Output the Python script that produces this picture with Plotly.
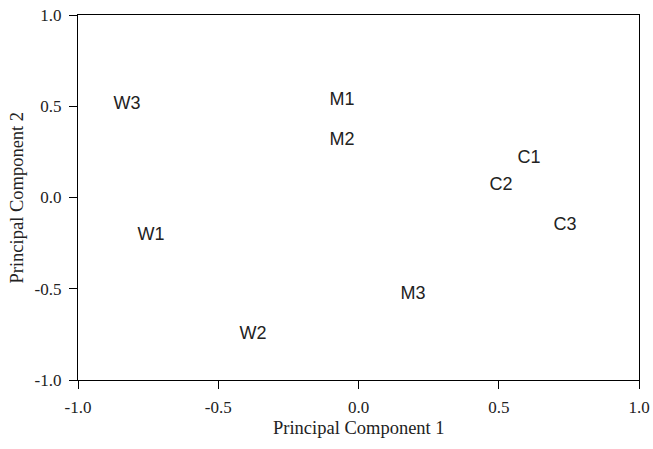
import plotly.graph_objects as go

labels = ["W1", "W2", "W3", "M1", "M2", "M3", "C1", "C2", "C3"]
pc1 = [-0.740, -0.376, -0.825, -0.059, -0.059, 0.194, 0.608, 0.508, 0.736]
pc2 = [-0.206, -0.748, 0.507, 0.534, 0.310, -0.529, 0.216, 0.068, -0.151]
tick_vals = [-1.0, -0.5, 0.0, 0.5, 1.0]
tick_text = ["-1.0", "-0.5", "0.0", "0.5", "1.0"]

serif = "Liberation Serif, Times New Roman, serif"

fig = go.Figure()
fig.add_trace(go.Scatter(
    x=pc1, y=pc2, text=labels, mode="text",
    textposition="middle center",
    textfont=dict(family="Liberation Sans, Arial, sans-serif", size=18, color="#222"),
    hoverinfo="skip", showlegend=False,
))

axis_common = dict(
    range=[-1.0, 1.0], tickvals=tick_vals, ticktext=tick_text,
    showgrid=False, zeroline=False, showline=True, linecolor="black",
    linewidth=1.3, mirror=True, ticks="outside", ticklen=8, tickwidth=1.2,
    tickcolor="black", automargin=False,
    tickfont=dict(family=serif, size=17, color="#222"),
)

fig.update_layout(
    width=653, height=449,
    margin=dict(l=78, r=14, t=15, b=69),
    paper_bgcolor="white", plot_bgcolor="white",
    xaxis=dict(**axis_common, ticklabelstandoff=3),
    yaxis=dict(**axis_common, ticklabelstandoff=4),
    annotations=[
        dict(text="Principal Component 1", xref="paper", yref="paper",
             x=0.5, y=(380 - 428) / 365, xanchor="center", yanchor="middle",
             showarrow=False, font=dict(family=serif, size=18.5, color="#222")),
        dict(text="Principal Component 2", xref="paper", yref="paper",
             x=(16 - 78) / 561, y=0.5, xanchor="center", yanchor="middle",
             textangle=-90, showarrow=False,
             font=dict(family=serif, size=18.5, color="#222")),
    ],
)

fig.write_html("out.html", config={"displayModeBar": False},
               post_script="document.body.style.margin='0';")
